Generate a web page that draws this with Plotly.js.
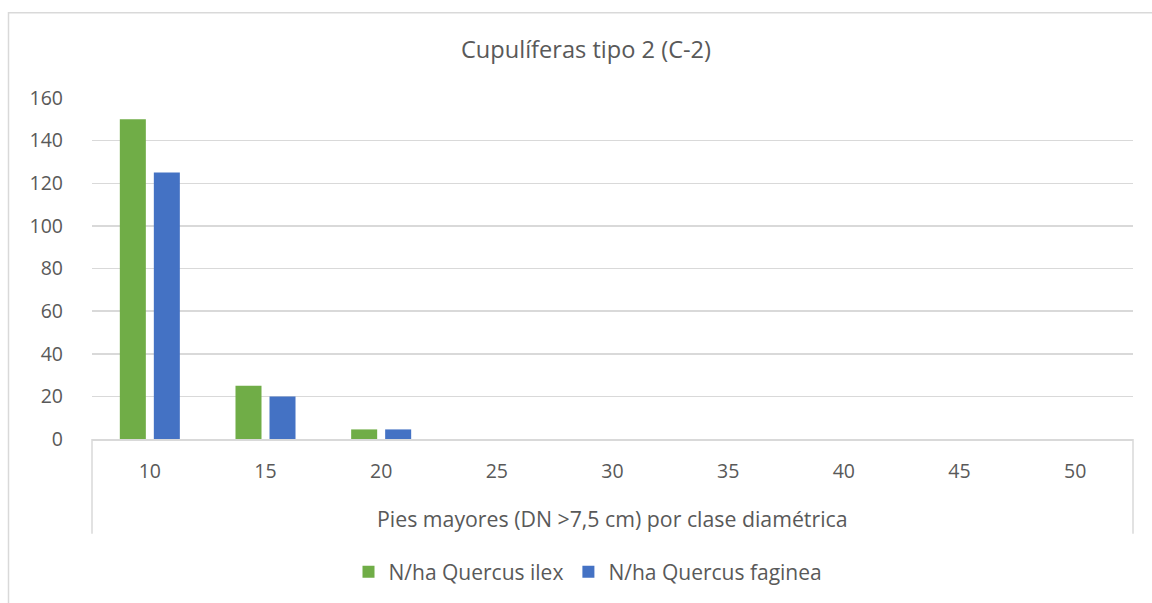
<!DOCTYPE html>
<html>
<head>
<meta charset="utf-8">
<script src="https://cdn.plot.ly/plotly-3.0.1.min.js"></script>
<style>
html,body{margin:0;padding:0;background:#fff;}
#chart{width:1152px;height:603px;}
</style>
</head>
<body>
<div id="chart"></div>
<script>
const categories = ["10","15","20","25","30","35","40","45","50"];
const ilexValues = [150, 25, 4.5, 0, 0, 0, 0, 0, 0];
const fagineaValues = [125, 20, 4.5, 0, 0, 0, 0, 0, 0];
const seriesNames = ["N/ha Quercus ilex", "N/ha Quercus faginea"];
const yTicks = [0, 20, 40, 60, 80, 100, 120, 140, 160];
const chartTitle = "Cupulíferas tipo 2 (C-2)";
const xTitle = "Pies mayores (DN >7,5 cm) por clase diamétrica";

const FONT = "'Open Sans', 'Noto Sans', sans-serif";
const GRAY = "#595959";
const LINE = "#d9d9d9";

const W = 1152, H = 603;
const L = 92, R = 19, T = 98, B = 163;
const pw = W - L - R, ph = H - T - B;
const px = x => (x - L) / pw;
const py = y => (H - B - y) / ph;

const traces = [
  {type: "bar", x: categories, y: ilexValues, name: seriesNames[0], marker: {color: "#70ad47"}, hoverinfo: "x+y"},
  {type: "bar", x: categories, y: fagineaValues, name: seriesNames[1], marker: {color: "#4472c4"}, hoverinfo: "x+y"}
];

const layout = {
  width: W, height: H,
  margin: {l: L, r: R, t: T, b: B, pad: 0},
  paper_bgcolor: "#fff", plot_bgcolor: "#fff",
  font: {family: FONT, color: GRAY, size: 19},
  title: {text: chartTitle, font: {family: FONT, size: 23.6, color: GRAY}, x: 586 / W, xanchor: "center", y: 1 - 50 / H, yanchor: "middle"},
  barmode: "group",
  bargap: 0.412,
  bargroupgap: 0.235,
  showlegend: true,
  legend: {orientation: "h", x: px(588), xanchor: "center", y: py(572), yanchor: "middle", font: {family: FONT, size: 21, color: GRAY}, traceorder: "normal"},
  xaxis: {
    type: "category",
    showline: true, linecolor: LINE, linewidth: 1.5,
    showgrid: false, zeroline: false,
    ticks: "", ticklabelstandoff: 14,
    tickfont: {family: FONT, size: 19.5, color: GRAY},
    fixedrange: true
  },
  yaxis: {
    range: [0, 160],
    tickvals: yTicks,
    showline: false, zeroline: false,
    showgrid: true, gridcolor: LINE, gridwidth: 1.5,
    ticks: "", ticklabelstandoff: 28,
    tickfont: {family: FONT, size: 19.5, color: GRAY},
    fixedrange: true
  },
  annotations: [
    {text: xTitle, xref: "paper", yref: "paper", x: 0.5, y: py(520), xanchor: "center", yanchor: "middle", showarrow: false, font: {family: FONT, size: 21.3, color: GRAY}}
  ],
  shapes: [
    {type: "rect", xref: "paper", yref: "paper", x0: px(8.5), x1: px(1170), y0: py(620), y1: py(12.5), line: {color: LINE, width: 1.5}, fillcolor: "rgba(0,0,0,0)", layer: "below"},
    {type: "line", xref: "paper", yref: "paper", x0: 0, x1: 0, y0: 0, y1: py(535), line: {color: LINE, width: 1.5}},
    {type: "line", xref: "paper", yref: "paper", x0: 1, x1: 1, y0: 0, y1: py(535), line: {color: LINE, width: 1.5}}
  ]
};

Plotly.newPlot("chart", traces, layout, {displayModeBar: false, staticPlot: true});
</script>
</body>
</html>
